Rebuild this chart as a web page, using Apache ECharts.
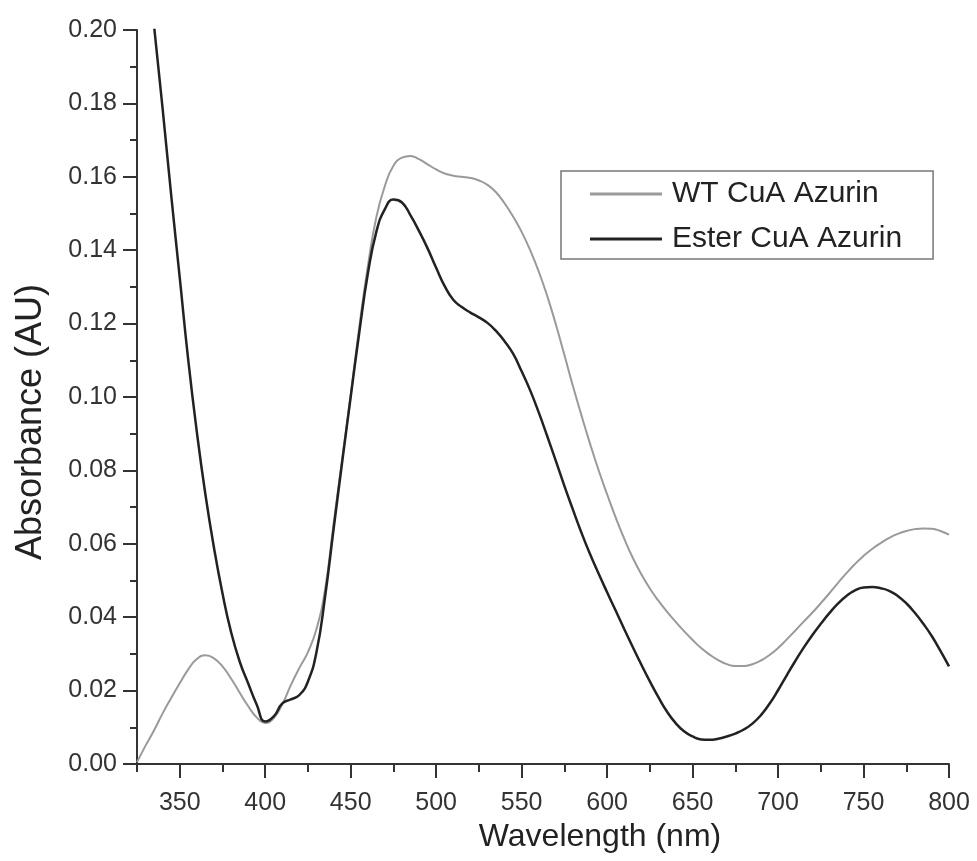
<!DOCTYPE html>
<html>
<head>
<meta charset="utf-8">
<script src="https://cdn.jsdelivr.net/npm/echarts@6/dist/echarts.min.js"></script>
<style>
html, body { margin: 0; padding: 0; background: #fff; }
#chart { width: 977px; height: 861px; }
</style>
</head>
<body>
<div id="chart"></div>
<script>
// [wavelength nm, absorbance AU]
var wtData = [
    [325, 0.0005], [330, 0.0050], [335, 0.0092], [340, 0.0138], [345, 0.0180],
    [350, 0.0220], [355, 0.0258], [360, 0.0286], [365, 0.0296], [370, 0.0288],
    [375, 0.0266], [380, 0.0233], [385, 0.0195], [390, 0.0158], [395, 0.0127],
    [400, 0.0112], [405, 0.0125], [410, 0.0163], [415, 0.0215], [420, 0.0262],
    [425, 0.0305], [430, 0.0368], [435, 0.0475], [440, 0.0655], [445, 0.0830],
    [450, 0.1005], [455, 0.1190], [460, 0.1355], [465, 0.1490], [470, 0.1575],
    [475, 0.1630], [480, 0.1652], [485, 0.1657], [490, 0.1648], [495, 0.1634],
    [500, 0.1620], [505, 0.1609], [510, 0.1603], [515, 0.1600], [520, 0.1597],
    [525, 0.1590], [530, 0.1578], [535, 0.1558], [540, 0.1528], [545, 0.1492],
    [550, 0.1450], [555, 0.1400], [560, 0.1342], [565, 0.1275], [570, 0.1198],
    [575, 0.1115], [580, 0.1030], [585, 0.0950], [590, 0.0873], [595, 0.0801],
    [600, 0.0735], [605, 0.0672], [610, 0.0614], [615, 0.0562], [620, 0.0517],
    [625, 0.0478], [630, 0.0445], [635, 0.0415], [640, 0.0388], [645, 0.0362],
    [650, 0.0338], [655, 0.0316], [660, 0.0298], [665, 0.0283], [670, 0.0272],
    [675, 0.0267], [680, 0.0267], [685, 0.0272], [690, 0.0282], [695, 0.0297],
    [700, 0.0316], [705, 0.0339], [710, 0.0363], [715, 0.0388], [720, 0.0412],
    [725, 0.0438], [730, 0.0465], [735, 0.0493], [740, 0.0520], [745, 0.0545],
    [750, 0.0567], [755, 0.0586], [760, 0.0602], [765, 0.0616], [770, 0.0627],
    [775, 0.0635], [780, 0.0640], [785, 0.0642], [790, 0.0641], [795, 0.0635],
    [800, 0.0625]
]

var esterData = [
    [335, 0.2010], [340, 0.1785], [345, 0.1550], [350, 0.1325], [355, 0.1100],
    [360, 0.0905], [365, 0.0735], [370, 0.0590], [375, 0.0465], [380, 0.0360],
    [385, 0.0280], [390, 0.0220], [395, 0.0162], [400, 0.0116], [405, 0.0130],
    [410, 0.0165], [415, 0.0176], [420, 0.0188], [425, 0.0225], [430, 0.0305],
    [435, 0.0455], [440, 0.0640], [445, 0.0822], [450, 0.1000], [455, 0.1175],
    [460, 0.1335], [465, 0.1450], [470, 0.1512], [475, 0.1538], [480, 0.1530],
    [485, 0.1495], [490, 0.1452], [495, 0.1405], [500, 0.1352], [505, 0.1302],
    [510, 0.1265], [515, 0.1245], [520, 0.1230], [525, 0.1217], [530, 0.1202],
    [535, 0.1180], [540, 0.1152], [545, 0.1118], [550, 0.1070], [555, 0.1018],
    [560, 0.0958], [565, 0.0893], [570, 0.0826], [575, 0.0758], [580, 0.0693],
    [585, 0.0630], [590, 0.0572], [595, 0.0519], [600, 0.0468], [605, 0.0418],
    [610, 0.0368], [615, 0.0319], [620, 0.0271], [625, 0.0225], [630, 0.0182],
    [635, 0.0143], [640, 0.0112], [645, 0.0089], [650, 0.0075], [655, 0.0067],
    [660, 0.0066], [665, 0.0069], [670, 0.0075], [675, 0.0083], [680, 0.0094],
    [685, 0.0110], [690, 0.0133], [695, 0.0164], [700, 0.0201], [705, 0.0241],
    [710, 0.0280], [715, 0.0317], [720, 0.0351], [725, 0.0382], [730, 0.0411],
    [735, 0.0437], [740, 0.0458], [745, 0.0473], [750, 0.0481], [755, 0.0482],
    [760, 0.0479], [765, 0.0472], [770, 0.0458], [775, 0.0438], [780, 0.0412],
    [785, 0.0382], [790, 0.0348], [795, 0.0308], [800, 0.0266]
]

var xMajorTicks = [350, 400, 450, 500, 550, 600, 650, 700, 750, 800]
var xMinorTicks = [325, 375, 425, 475, 525, 575, 625, 675, 725, 775]

var FONT = '"Liberation Sans", Arial, sans-serif'
var AXIS = '#333'

var chart = echarts.init(document.getElementById('chart'))

var option = {
    animation: false,
    backgroundColor: '#fff',
    grid: {
        left: 137,
        right: 28,
        top: 30,
        bottom: 97,
        containLabel: false
    },
    legend: {
        orient: 'vertical',
        left: 561,
        top: 171,
        icon: 'rect',
        itemWidth: 72,
        itemHeight: 3,
        itemGap: 15,
        padding: [8, 31, 5, 29],
        borderColor: '#777',
        borderWidth: 1.5,
        textStyle: {
            fontFamily: FONT,
            fontSize: 30,
            lineHeight: 30,
            color: '#222',
            padding: [0, 0, 0, 5]
        },
        data: ['WT CuA Azurin', 'Ester CuA Azurin']
    },
    xAxis: [{
        type: 'value',
        min: 325,
        max: 800,
        name: 'Wavelength (nm)',
        nameLocation: 'middle',
        nameGap: 47,
        nameTextStyle: {
            fontFamily: FONT,
            fontSize: 32,
            color: '#222',
            padding: [0, 0, 0, 114]
        },
        axisLine: { lineStyle: { color: AXIS, width: 2 } },
        axisTick: {
            customValues: xMajorTicks,
            length: 14,
            lineStyle: { color: AXIS, width: 2 }
        },
        axisLabel: {
            customValues: xMajorTicks,
            margin: 27,
            fontFamily: FONT,
            fontSize: 25,
            color: '#333'
        },
        splitLine: { show: false }
    }, {
        // short ticks half way between the labelled ones
        type: 'value',
        min: 325,
        max: 800,
        position: 'bottom',
        axisLine: { show: false },
        axisTick: {
            customValues: xMinorTicks,
            length: 8,
            lineStyle: { color: AXIS, width: 2 }
        },
        axisLabel: { show: false },
        splitLine: { show: false }
    }],
    yAxis: {
        type: 'value',
        min: 0,
        max: 0.2,
        interval: 0.02,
        name: 'Absorbance (AU)',
        nameLocation: 'middle',
        nameGap: 88,
        nameTextStyle: {
            fontFamily: FONT,
            fontSize: 36,
            color: '#222',
            padding: [0, 50, 0, 0]
        },
        axisLine: { show: true, lineStyle: { color: AXIS, width: 2 } },
        axisTick: { show: true, length: 14, lineStyle: { color: AXIS, width: 2 } },
        minorTick: { show: true, splitNumber: 2, length: 7, lineStyle: { color: AXIS, width: 2 } },
        axisLabel: {
            margin: 20,
            fontFamily: FONT,
            fontSize: 25,
            color: '#333',
            formatter: v => v.toFixed(2)
        },
        splitLine: { show: false },
        minorSplitLine: { show: false }
    },
    series: [{
        name: 'WT CuA Azurin',
        type: 'line',
        xAxisIndex: 0,
        data: wtData,
        smooth: 0.5,
        symbol: 'none',
        lineStyle: { color: '#9a9a9a', width: 2 },
        itemStyle: { color: '#9a9a9a' }
    }, {
        name: 'Ester CuA Azurin',
        type: 'line',
        xAxisIndex: 0,
        data: esterData,
        smooth: 0.5,
        symbol: 'none',
        lineStyle: { color: '#222', width: 2.5 },
        itemStyle: { color: '#222' }
    }]
}

chart.setOption(option)
</script>
</body>
</html>
